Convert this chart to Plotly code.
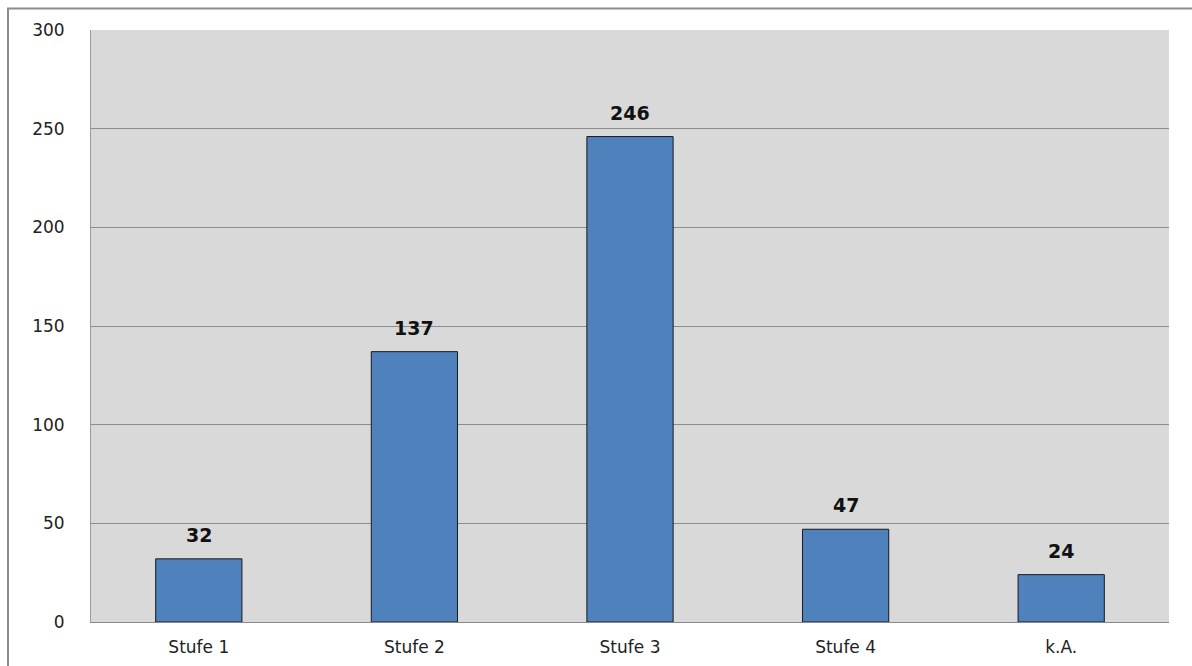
import plotly.graph_objects as go

categories = ["Stufe 1", "Stufe 2", "Stufe 3", "Stufe 4", "k.A."]
values = [32, 137, 246, 47, 24]
y_ticks = [0, 50, 100, 150, 200, 250, 300]

fig = go.Figure()
fig.add_trace(go.Bar(
    x=categories, y=values,
    marker=dict(color="#4F81BD", line=dict(color="#1a1a1a", width=1)),
))

for c, v in zip(categories, values):
    fig.add_annotation(x=c, y=v, text=f"<b>{v}</b>", showarrow=False,
                       yanchor="bottom", yshift=11,
                       font=dict(family="DejaVu Sans", size=19, color="#111111"))

ml, mr, mt, mb = 91, 23, 30, 44
pw = 1192 - ml - mr
ph = 666 - mt - mb

fig.update_layout(
    width=1192, height=666,
    margin=dict(l=ml, r=mr, t=mt, b=mb, autoexpand=False),
    paper_bgcolor="#ffffff", plot_bgcolor="#d9d9d9",
    bargap=0.6, showlegend=False,
    font=dict(family="DejaVu Sans", size=17, color="#222222"),
    xaxis=dict(showgrid=False, showline=True, linecolor="#888888", linewidth=1,
               ticks="", tickfont=dict(size=17), ticklabelstandoff=10, automargin=False),
    yaxis=dict(range=[0, 300], tickvals=y_ticks, showgrid=True, gridcolor="#8c8c8c",
               gridwidth=1, showline=True, linecolor="#9a9a9a", linewidth=1,
               ticks="", zeroline=False, tickfont=dict(size=17), ticklabelstandoff=22,
               automargin=False),
    shapes=[dict(type="rect", xref="paper", yref="paper",
                 x0=(8 - ml) / pw, x1=(1200 - ml) / pw,
                 y0=-(mb + 10) / ph, y1=1 + (mt - 8.5) / ph,
                 line=dict(color="#8c8c8c", width=2), fillcolor="rgba(0,0,0,0)", layer="below")],
)

fig.write_html("out.html")
